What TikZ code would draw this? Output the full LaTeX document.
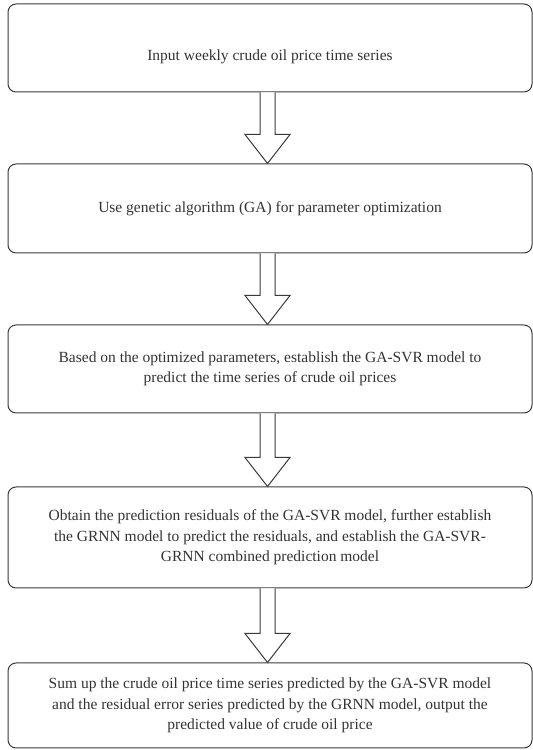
\documentclass[tikz,border=0pt]{standalone}
\usepackage{fontspec}
\setmainfont{Liberation Serif}
\usetikzlibrary{calc}
\definecolor{edge}{HTML}{3A3A3A}
\definecolor{ink}{HTML}{333333}
\tikzset{
  stepbox/.style={draw=edge, line width=1pt, rounded corners=8pt, minimum width=524pt,
    inner sep=0pt, align=center, text=ink, font=\fontsize{15.5}{20.5}\selectfont},
  fatarrow/.style={draw=edge, line width=1pt, fill=white, line join=miter}
}
\begin{document}
\begin{tikzpicture}[x=1pt,y=1pt]
\useasboundingbox (0,0) rectangle (533,750);
\node[stepbox, minimum height=88pt, text height=29pt] (b1) at (270,702) {Input weekly crude oil price time series};
\node[stepbox, minimum height=89pt] (b2) at (270,541.5) {Use genetic algorithm (GA) for parameter optimization};
\node[stepbox, minimum height=88pt] (b3) at (270,381) {Based on the optimized parameters, establish the GA-SVR model to\\predict the time series of crude oil prices};
\node[stepbox, minimum height=101pt] (b4) at (270,212.5) {Obtain the prediction residuals of the GA-SVR model, further establish\\the GRNN model to predict the residuals, and establish the GA-SVR-\\GRNN combined prediction model};
\node[stepbox, minimum height=85pt] (b5) at (270,44.5) {Sum up the crude oil price time series predicted by the GA-SVR model\\and the residual error series predicted by the GRNN model, output the\\predicted value of crude oil price};
\foreach \a/\b in {b1/b2,b2/b3,b3/b4,b4/b5}{
  \draw[fatarrow]
    ($(\a.south)+(-10,0)$) -- ($(\b.north)+(-10,29)$) -- ($(\b.north)+(-25,29)$)
    -- ($(\b.north)+(-2.5,0)$) -- ($(\b.north)+(20,29)$) -- ($(\b.north)+(5,29)$)
    -- ($(\a.south)+(5,0)$);
}
\end{tikzpicture}
\end{document}
